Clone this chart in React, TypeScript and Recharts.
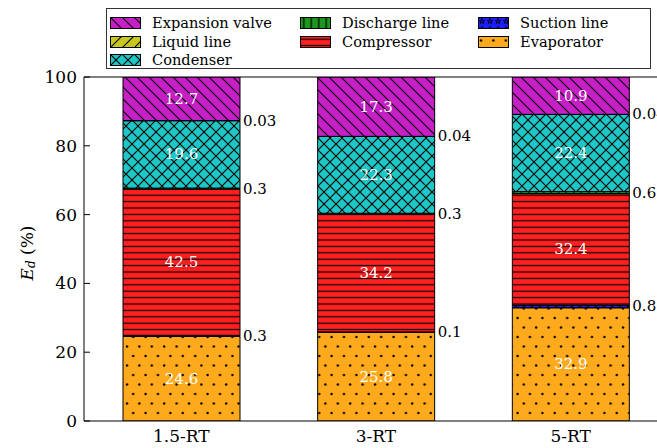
import React from "react";
import { BarChart, Bar, XAxis, YAxis, LabelList, ReferenceLine } from "recharts";

const FONT = "'DejaVu Serif', 'Liberation Serif', serif";

// exergy destruction share per component (%)
const categories = ["1.5-RT", "3-RT", "5-RT"];
const evaporator = [24.6, 25.8, 32.9];
const suctionLine = [0.3, 0.1, 0.8];
const compressor = [42.5, 34.2, 32.4];
const dischargeLine = [0.3, 0.3, 0.6];
const condenser = [19.6, 22.3, 22.4];
const liquidLine = [0.03, 0.04, 0.04];
const expansionValve = [12.7, 17.3, 10.9];
const yTicks = [0, 20, 40, 60, 80, 100];

const data = categories.map((name, i) => ({
  name,
  evaporator: evaporator[i],
  suctionLine: suctionLine[i],
  compressor: compressor[i],
  dischargeLine: dischargeLine[i],
  condenser: condenser[i],
  liquidLine: liquidLine[i],
  expansionValve: expansionValve[i],
}));

// legend is laid out column by column
const legendColumns = [
  [
    { label: "Expansion valve", fill: "url(#hExpansion)" },
    { label: "Liquid line", fill: "url(#hLiquid)" },
    { label: "Condenser", fill: "url(#hCondenser)" },
  ],
  [
    { label: "Discharge line", fill: "url(#hDischarge)" },
    { label: "Compressor", fill: "url(#hCompressor)" },
  ],
  [
    { label: "Suction line", fill: "url(#hSuction)" },
    { label: "Evaporator", fill: "url(#hEvaporator)" },
  ],
];

const box = (props: any) => {
  const vb = props.viewBox && props.viewBox.width !== undefined ? props.viewBox : props;
  return { x: Number(vb.x), y: Number(vb.y), w: Number(vb.width), h: Number(vb.height) };
};

const InsideLabel = (props: any) => {
  const { x, y, w, h } = box(props);
  return (
    <text x={x + w / 2} y={y + h / 2} fill="#fff" fontSize={15} fontFamily={FONT}
      textAnchor="middle" dominantBaseline="central">
      {props.value}
    </text>
  );
};

const SideLabel = (props: any) => {
  const { x, y, w, h } = box(props);
  return (
    <text x={x + w + 3} y={y + h / 2} fill="#000" fontSize={15} fontFamily={FONT}
      textAnchor="start" dominantBaseline="central">
      {props.value}
    </text>
  );
};

const YLabel = (props: any) => {
  const vb = props.viewBox || { y: 77, height: 344 };
  const cx = 27;
  const cy = vb.y + vb.height / 2 + 4;
  return (
    <text x={cx} y={cy} transform={`rotate(-90, ${cx}, ${cy})`} textAnchor="middle"
      fontSize={17} fontFamily={FONT} fill="#000" dominantBaseline="central">
      <tspan fontStyle="italic">E</tspan>
      <tspan fontStyle="italic" fontSize={12} dy={4}>d</tspan>
      <tspan dy={-4}> (%)</tspan>
    </text>
  );
};

function HatchDefs() {
  return (
    <svg width={0} height={0} style={{ position: "absolute" }}>
      <defs>
        <pattern id="hExpansion" patternUnits="userSpaceOnUse" width={12} height={12}>
          <rect width={12} height={12} fill="#c61fc6" />
          <path d="M-6,6 L6,18 M0,0 L12,12 M6,-6 L18,6" stroke="#000" strokeWidth={1.1} />
        </pattern>
        <pattern id="hLiquid" patternUnits="userSpaceOnUse" width={12} height={12}>
          <rect width={12} height={12} fill="#c8c81c" />
          <path d="M-6,6 L6,-6 M0,12 L12,0 M6,18 L18,6" stroke="#000" strokeWidth={1.1} />
        </pattern>
        <pattern id="hCondenser" patternUnits="userSpaceOnUse" width={12} height={12}>
          <rect width={12} height={12} fill="#1fc6c6" />
          <path d="M0,0 L12,12 M12,0 L0,12" stroke="#000" strokeWidth={1.1} />
        </pattern>
        <pattern id="hDischarge" patternUnits="userSpaceOnUse" width={7.5} height={7.5}>
          <rect width={7.5} height={7.5} fill="#1c961c" />
          <path d="M3.75,0 L3.75,7.5" stroke="#000" strokeWidth={1.2} />
        </pattern>
        <pattern id="hCompressor" patternUnits="userSpaceOnUse" width={6.4} height={6.4}>
          <rect width={6.4} height={6.4} fill="#ff1f1f" />
          <path d="M0,3.2 L6.4,3.2" stroke="#000" strokeWidth={1.2} />
        </pattern>
        <pattern id="hSuction" patternUnits="userSpaceOnUse" width={8} height={8}>
          <rect width={8} height={8} fill="#1c1cff" />
          <path d="M4,1.5 L4.7,3.4 L6.6,3.4 L5.1,4.6 L5.7,6.5 L4,5.3 L2.3,6.5 L2.9,4.6 L1.4,3.4 L3.3,3.4 Z"
            fill="none" stroke="#000" strokeWidth={0.9} />
        </pattern>
        <pattern id="hEvaporator" patternUnits="userSpaceOnUse" width={12.4} height={19}>
          <rect width={12.4} height={19} fill="#ffaa1c" />
          <circle cx={3} cy={4.5} r={1.2} fill="#000" />
          <circle cx={9.2} cy={14} r={1.2} fill="#000" />
        </pattern>
      </defs>
    </svg>
  );
}

function Legend() {
  const colX = [110, 300, 478];
  return (
    <div
      style={{
        position: "absolute", left: 106, top: 8, width: 543, height: 59,
        border: "1px solid #333", background: "#fff",
      }}
    >
      {legendColumns.map((col, ci) =>
        col.map((item, ri) => (
          <div key={item.label}
            style={{
              position: "absolute", left: colX[ci] - 107, top: 6 + ri * 18.5,
              display: "flex", alignItems: "center", height: 16, whiteSpace: "nowrap",
            }}
          >
            <svg width={31} height={12} style={{ marginRight: 11 }}>
              <rect x={0.5} y={0.5} width={30} height={11} fill={item.fill} stroke="#000" strokeWidth={1} />
            </svg>
            <span style={{ fontFamily: FONT, fontSize: 14.6, lineHeight: "16px", color: "#000" }}>
              {item.label}
            </span>
          </div>
        ))
      )}
    </div>
  );
}

export default function App() {
  return (
    <div style={{ position: "fixed", left: 0, top: 0, width: 657, height: 448, overflow: "hidden", background: "#fff" }}>
      <HatchDefs />
      <BarChart width={668} height={448} data={data} margin={{ top: 77, right: 0, bottom: 0, left: 0 }}
        barSize={117}>
        <XAxis dataKey="name" height={27} tickLine={false} axisLine={{ stroke: "#000" }}
          tick={{ fontSize: 17, fontFamily: FONT, fill: "#000" }} tickMargin={3} />
        <YAxis width={84} domain={[0, 100]} ticks={yTicks} allowDataOverflow
          axisLine={{ stroke: "#000" }} tickLine={{ stroke: "#000" }} tickSize={-6} tickMargin={13}
          tick={{ fontSize: 17, fontFamily: FONT, fill: "#000" }} label={<YLabel />} />
        <ReferenceLine y={100} stroke="#000" />
        <Bar dataKey="evaporator" stackId="a" fill="url(#hEvaporator)" stroke="#000" strokeWidth={1} isAnimationActive={false}>
          <LabelList dataKey="evaporator" content={<InsideLabel />} />
        </Bar>
        <Bar dataKey="suctionLine" stackId="a" fill="url(#hSuction)" stroke="#000" strokeWidth={1} isAnimationActive={false}>
          <LabelList dataKey="suctionLine" content={<SideLabel />} />
        </Bar>
        <Bar dataKey="compressor" stackId="a" fill="url(#hCompressor)" stroke="#000" strokeWidth={1} isAnimationActive={false}>
          <LabelList dataKey="compressor" content={<InsideLabel />} />
        </Bar>
        <Bar dataKey="dischargeLine" stackId="a" fill="url(#hDischarge)" stroke="#000" strokeWidth={1} isAnimationActive={false}>
          <LabelList dataKey="dischargeLine" content={<SideLabel />} />
        </Bar>
        <Bar dataKey="condenser" stackId="a" fill="url(#hCondenser)" stroke="#000" strokeWidth={1} isAnimationActive={false}>
          <LabelList dataKey="condenser" content={<InsideLabel />} />
        </Bar>
        <Bar dataKey="liquidLine" stackId="a" fill="url(#hLiquid)" stroke="#000" strokeWidth={1} isAnimationActive={false}>
          <LabelList dataKey="liquidLine" content={<SideLabel />} />
        </Bar>
        <Bar dataKey="expansionValve" stackId="a" fill="url(#hExpansion)" stroke="#000" strokeWidth={1} isAnimationActive={false}>
          <LabelList dataKey="expansionValve" content={<InsideLabel />} />
        </Bar>
      </BarChart>
      <Legend />
    </div>
  );
}
